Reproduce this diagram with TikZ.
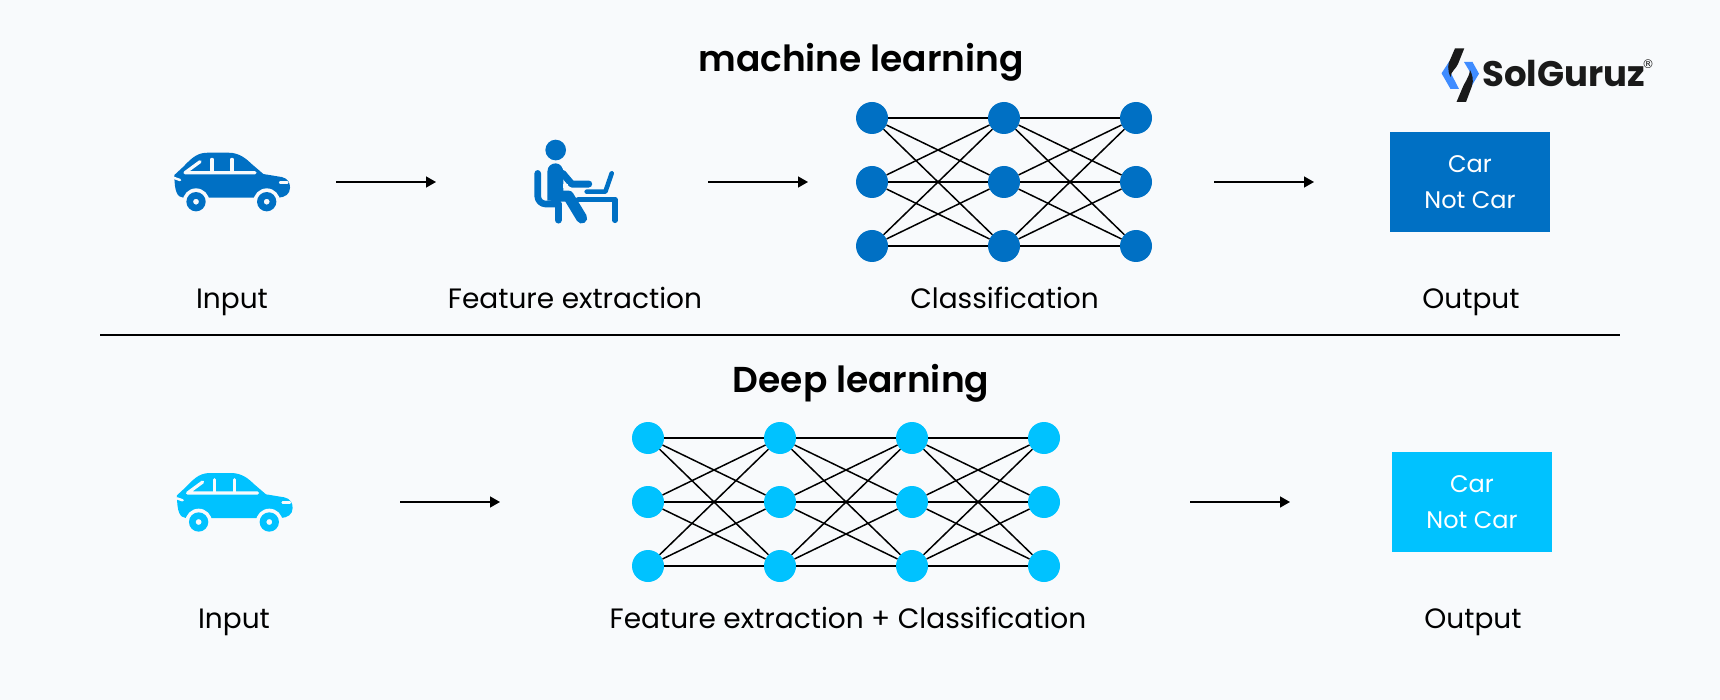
\documentclass[tikz,border=0pt]{standalone}
\usepackage{fontspec}
\setmainfont{Poppins}
\newfontfamily\headfont{Poppins SemiBold}
\newfontfamily\markfont{DejaVu Sans}
\usepackage{xcolor}
\usetikzlibrary{positioning,arrows.meta}
\definecolor{pagebg}{HTML}{F8FAFC}
\definecolor{darkblue}{HTML}{0070C4}
\definecolor{lightblue}{HTML}{00C2FF}
\definecolor{logoblue}{HTML}{3F8CFF}
\definecolor{logoblack}{HTML}{1A1A1A}
\tikzset{
  >={Triangle[length=10pt,width=11pt]},
  flow/.style={draw, line width=1.5pt, ->},
  link/.style={draw, line width=1.5pt},
  rule/.style={draw, line width=2pt},
  neuron/.style={circle, minimum size=32pt, inner sep=0pt, fill=#1},
  caption/.style={anchor=base, inner sep=0pt, font=\fontsize{28}{32}\selectfont, text=black},
  heading/.style={font=\fontsize{36}{42}\selectfont\headfont, text=black},
  result/.style={rectangle, minimum width=160pt, minimum height=100pt, inner sep=0pt,
    fill=#1, text=white, align=center, font=\fontsize{24}{36}\selectfont},
  pics/carshape/.style={code={
    \begin{scope}[scale=1/3, shift={(-275,-185)}]
      \fill[#1] (103,165) -- (130,140) .. controls (160,108) and (175,98) .. (205,98)
        -- (265,98) .. controls (300,98) and (320,118) .. (335,132) -- (370,162)
        -- (425,171) .. controls (445,175) and (450,190) .. (450,203)
        .. controls (450,222) and (435,232) .. (415,233) -- (130,233)
        .. controls (112,232) and (103,215) .. (103,165) -- cycle;
      \foreach \wx in {168,380} {
        \fill[pagebg] (\wx,245) circle (40);
        \fill[#1, even odd rule] (\wx,245) circle (29) (\wx,245) circle (9);
      }
      \draw[pagebg, line width=3.2pt, line cap=round, line join=round]
        (345,158) -- (135,158) -- (180,125);
      \draw[pagebg, line width=3.2pt, line cap=round] (216,118) -- (216,155);
      \draw[pagebg, line width=3.2pt, line cap=round] (276,118) -- (276,155);
      \draw[pagebg, line width=2.4pt, line cap=round] (103,174) -- (120,180);
      \draw[pagebg, line width=2.4pt, line cap=round] (420,187) -- (442,187);
    \end{scope}
  }},
  pics/worker/.style={code={
    \begin{scope}[scale=1/3, shift={(-1310,-185)}, darkblue, line cap=round, line join=round]
      \fill (1247,90) circle (31);
      % chair
      \draw[line width=6.6pt, rounded corners=8pt] (1193,160) -- (1193,252) -- (1255,252);
      \draw[line width=7pt] (1255,252) -- (1255,300);
      % torso, arm, leg
      \fill (1222,155) .. controls (1222,138) and (1235,130) .. (1247,130)
        .. controls (1260,130) and (1270,142) .. (1270,158) -- (1270,242) -- (1222,242) -- cycle;
      \draw[line width=7pt] (1268,160) -- (1295,192) -- (1346,192);
      \fill[pagebg] (1270,192) rectangle (1285,205);
      \draw[line width=11pt] (1240,228) -- (1285,228) -- (1325,294);
      % desk
      \draw[line width=5.4pt] (1315,238) -- (1425,238) -- (1425,301);
      % laptop
      \draw[line width=4.6pt] (1340,215) -- (1396,215) -- (1415,160);
    \end{scope}
  }},
}
\begin{document}
\begin{tikzpicture}[x=1pt, y=-1pt]
  \fill[pagebg] (0,0) rectangle (1720,700);
  \useasboundingbox (0,0) rectangle (1720,700);

  \node[heading] (titleA) at (861,62) {machine learning};
  \node[heading] (titleB) at (861,383) {Deep learning};
  \coordinate (ruleL) at (100,334.5);
  \coordinate (ruleR) at (1620,334.5);
  \draw[rule] (ruleL) -- (ruleR);

  % logo
  \fill[logoblue] (1449.5,61) -- (1441.5,73.3) -- (1450.5,89) -- (1459,89) -- (1451,73.5) -- (1456,61) -- cycle;
  \fill[logoblue] (1464,62) -- (1472.5,62) -- (1479,73.7) -- (1471,87) -- (1467,80) -- (1471,73.7) -- cycle;
  \fill[logoblack] (1455,48.3) -- (1464.3,48.3) -- (1458,64) .. controls (1456,69) and (1451,71) .. (1450.5,77)
    .. controls (1447,70) and (1448,63) .. (1450,60) -- cycle;
  \fill[logoblack] (1456.5,102) -- (1466,102) -- (1472,86) .. controls (1474,80) and (1472,74) .. (1470,70)
    .. controls (1469,78) and (1464,83) .. (1462,89) -- cycle;
  \node[anchor=base west, inner sep=0pt, text=logoblack, font=\fontsize{35.5}{40}\selectfont\bfseries] (logotext) at (1482,87) {SolGuruz};
  \node[inner sep=0pt, text=logoblack, font=\fontsize{12}{14}\selectfont\markfont] (logomark) at (1648,64) {®};

  % machine learning row
  \pic at (231.7,181.7) {carshape=darkblue};
  \pic at (576.7,181.7) {worker};
  \coordinate (a1) at (336,182);
  \coordinate (a2) at (436,182);
  \coordinate (b1) at (708,182);
  \coordinate (b2) at (808,182);
  \coordinate (c1) at (1214,182);
  \coordinate (c2) at (1314,182);
  \draw[flow] (a1) -- (a2);
  \draw[flow] (b1) -- (b2);
  \draw[flow] (c1) -- (c2);
  \foreach \col/\x in {1/872,2/1004,3/1136}
    \foreach \row/\y in {1/118,2/182,3/246}
      \node[neuron=darkblue] (m\col\row) at (\x,\y) {};
  \foreach \i/\j in {1/2,2/3}
    \foreach \p in {1,2,3}
      \foreach \q in {1,2,3}
        \draw[link] (m\i\p) -- (m\j\q);
  \node[result=darkblue] (outA) at (1470,182) {Car\\Not Car};
  \node[caption] (capA1) at (232,308.7) {Input};
  \node[caption] (capA2) at (575,308.7) {Feature extraction};
  \node[caption] (capA3) at (1004.5,308.7) {Classification};
  \node[caption] (capA4) at (1471,308.7) {Output};

  % deep learning row
  \pic at (234.3,502) {carshape=lightblue};
  \coordinate (d1) at (400,502);
  \coordinate (d2) at (500,502);
  \coordinate (e1) at (1190,502);
  \coordinate (e2) at (1290,502);
  \draw[flow] (d1) -- (d2);
  \draw[flow] (e1) -- (e2);
  \foreach \col/\x in {1/648,2/780,3/912,4/1044}
    \foreach \row/\y in {1/438,2/502,3/566}
      \node[neuron=lightblue] (n\col\row) at (\x,\y) {};
  \foreach \i/\j in {1/2,2/3,3/4}
    \foreach \p in {1,2,3}
      \foreach \q in {1,2,3}
        \draw[link] (n\i\p) -- (n\j\q);
  \node[result=lightblue] (outB) at (1472,502) {Car\\Not Car};
  \node[caption] (capB1) at (234,628) {Input};
  \node[caption] (capB2) at (848,628) {Feature extraction + Classification};
  \node[caption] (capB3) at (1473,628) {Output};
\end{tikzpicture}
\end{document}
